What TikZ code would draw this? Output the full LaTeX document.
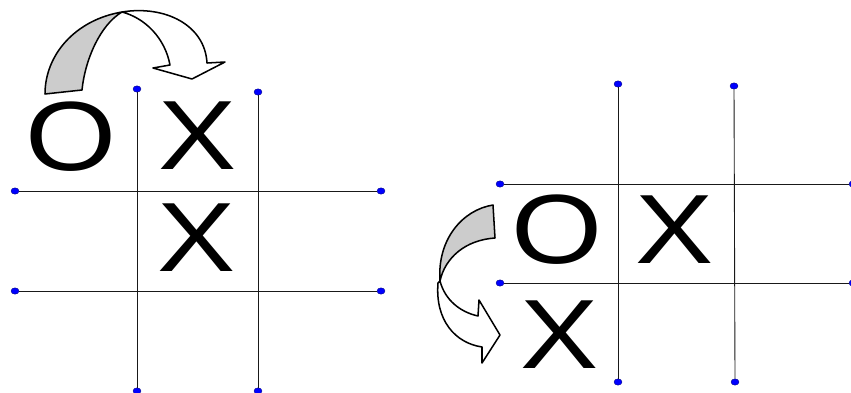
\documentclass[tikz,border=0pt]{standalone}
\usepackage{fontspec}
\newfontfamily\glyphfont[FakeStretch=1.19]{Liberation Sans}
\usepackage{tikz}
\usetikzlibrary{positioning,shapes.geometric}

\begin{document}
\begin{tikzpicture}[x=0.03cm, y=-0.03cm,
  vertex/.style={ellipse, fill=blue, draw=blue!50!black, line width=0.3pt, inner sep=0pt, minimum width=0.24cm, minimum height=0.19cm},
  gridline/.style={draw=black!90, line width=0.75pt},
  glyph/.style={inner sep=0pt, font=\glyphfont\fontsize{84}{84}\selectfont},
  ribbon/.style={draw, line width=1.3pt, fill=white, line join=round},
  backside/.style={draw, line width=1.3pt, fill=black!20, line join=round}
]
\useasboundingbox (0,0) rectangle (851,392);

% left board
\node[vertex] (l1t) at (137,89) {};
\node[vertex] (l1b) at (137,391) {};
\node[vertex] (l2t) at (258,92) {};
\node[vertex] (l2b) at (258,391) {};
\node[vertex] (l3l) at (15,191) {};
\node[vertex] (l3r) at (381,191) {};
\node[vertex] (l4l) at (15,291) {};
\node[vertex] (l4r) at (381,291) {};

\draw[gridline] (l1t) -- (l1b);
\draw[gridline] (l2t) -- (l2b);
\draw[gridline] (l3l) -- (l3r);
\draw[gridline] (l4l) -- (l4r);

\node[glyph] (oL) at (71,137) {O};
\node[glyph] (xL1) at (198,136) {X};
\node[glyph] (xL2) at (197,238) {X};

% right board
\node[vertex] (r1t) at (618,84) {};
\node[vertex] (r1b) at (618,382) {};
\node[vertex] (r2t) at (734,86) {};
\node[vertex] (r2b) at (735,382) {};
\node[vertex] (r3l) at (500,184) {};
\node[vertex] (r3r) at (853,184) {};
\node[vertex] (r4l) at (500,283) {};
\node[vertex] (r4r) at (853,283) {};

\draw[gridline] (r1t) -- (r1b);
\draw[gridline] (r2t) -- (r2b);
\draw[gridline] (r3l) -- (r3r);
\draw[gridline] (r4l) -- (r4r);

\node[glyph] (oR) at (557,230) {O};
\node[glyph] (xR1) at (675,230) {X};
\node[glyph] (xR2) at (560,335) {X};

% curved arrow over the top row
\draw[ribbon] (122,12) .. controls (165,5) and (205,25) .. (207,63) -- (225,62) -- (192,79)
  -- (153,68) -- (170,65) .. controls (165,38) and (145,18) .. (122,12) -- cycle;
\draw[backside] (45,94) .. controls (45,55) and (75,20) .. (122,12)
  .. controls (100,25) and (85,60) .. (82,90) -- cycle;

% curved arrow at the left of the right board
\draw[ribbon] (440,281) .. controls (445,300) and (460,312) .. (478,316) -- (479,300) -- (500,335)
  -- (482,363) -- (482,347) .. controls (455,343) and (435,320) .. (438,283) -- cycle;
\draw[backside] (493,205) .. controls (462,210) and (437,240) .. (440,281)
  .. controls (445,258) and (465,240) .. (495,238) -- cycle;
\end{tikzpicture}
\end{document}
